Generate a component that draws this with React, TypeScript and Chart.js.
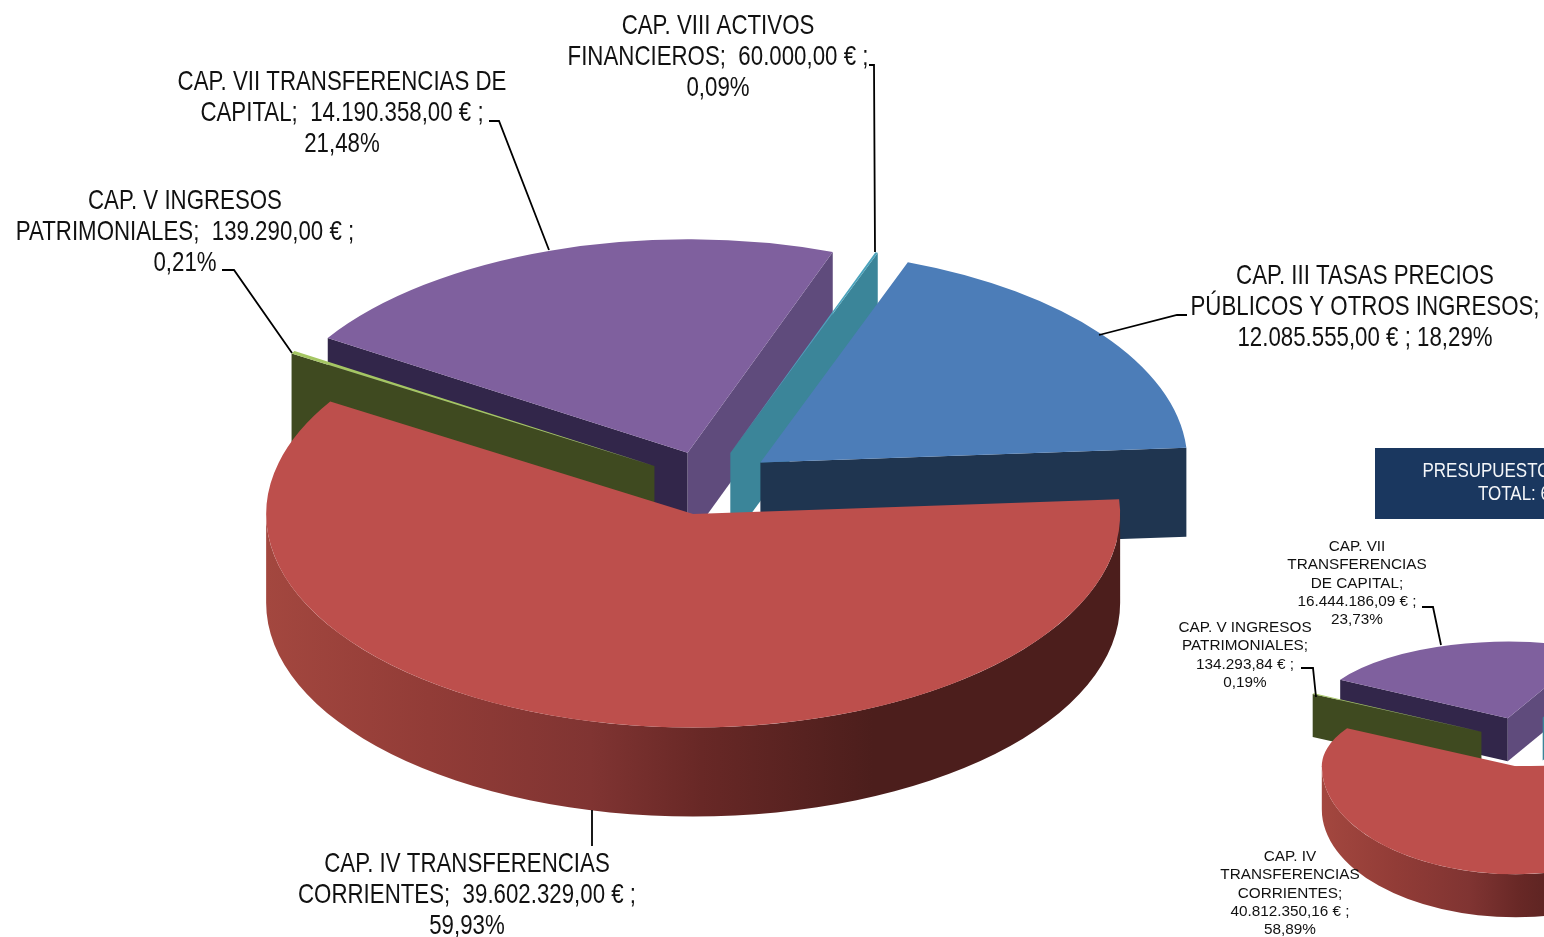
import React, { useEffect, useRef } from "react";
import { Chart, ArcElement, PieController } from "chart.js";

Chart.register(ArcElement, PieController);

// ---- data: first pie ----
const mainCategories = [
  "CAP. III TASAS PRECIOS PÚBLICOS Y OTROS INGRESOS",
  "CAP. IV TRANSFERENCIAS CORRIENTES",
  "CAP. V INGRESOS PATRIMONIALES",
  "CAP. VII TRANSFERENCIAS DE CAPITAL",
  "CAP. VIII ACTIVOS FINANCIEROS",
];
const mainValues = [12085555.0, 39602329.0, 139290.0, 14190358.0, 60000.0];

// ---- data: second pie (the window crops it; III and VIII are estimates) ----
const secondCategories = mainCategories;
const secondValues = [11850000.0, 40812350.16, 134293.84, 16444186.09, 60000.0];

const sliceColors = ["#4C7DB8", "#BD4F4C", "#A5C663", "#7F609E", "#4BA3BC"];
const startFaceColors = [null, null, "#3F4A20", "#32264A", null];
const endFaceColors = ["#1F3550", null, null, "#5F4B7C", "#3B8599"];
const paintOrder = [3, 4, 2, 0, 1];
const rimStops: [number, string][] = [
  [0, "#A3473F"],
  [0.19, "#923C37"],
  [0.38, "#803432"],
  [0.51, "#682826"],
  [0.71, "#4C1E1C"],
  [1, "#4C1E1C"],
];

const REGULAR = '"Liberation Sans", Arial, sans-serif';

// ---- text ----
const mainLabels = [
  { x: 718, y: 25, lines: ["CAP. VIII ACTIVOS", "FINANCIEROS;  60.000,00 € ;", "0,09%"] },
  { x: 342, y: 81, lines: ["CAP. VII TRANSFERENCIAS DE", "CAPITAL;  14.190.358,00 € ;", "21,48%"] },
  { x: 185, y: 200, lines: ["CAP. V INGRESOS", "PATRIMONIALES;  139.290,00 € ;", "0,21%"] },
  { x: 1365, y: 275, lines: ["CAP. III TASAS PRECIOS", "PÚBLICOS Y OTROS INGRESOS;", "12.085.555,00 € ; 18,29%"] },
  { x: 467, y: 863, lines: ["CAP. IV TRANSFERENCIAS", "CORRIENTES;  39.602.329,00 € ;", "59,93%"] },
];
const secondLabels = [
  { x: 1357, y: 547, lines: ["CAP. VII", "TRANSFERENCIAS", "DE CAPITAL;", "16.444.186,09 € ;", "23,73%"] },
  { x: 1245, y: 628, lines: ["CAP. V INGRESOS", "PATRIMONIALES;", "134.293,84 € ;", "0,19%"] },
  { x: 1290, y: 857, lines: ["CAP. IV", "TRANSFERENCIAS", "CORRIENTES;", "40.812.350,16 € ;", "58,89%"] },
];
const titleLines = [
  { x: 1422.5, y: 472, text: "PRESUPUESTO" },
  { x: 1478, y: 494.5, text: "TOTAL: 6" },
];

// ---- leader lines ----
const mainLeaders = [
  [[869, 65], [874, 65], [875, 252]],
  [[489, 121], [499, 121], [549, 250]],
  [[222, 270], [234, 270], [292, 353]],
  [[1099, 335], [1177, 315], [1187, 315]],
  [[592, 810], [592, 846]],
];
const secondLeaders = [
  [[1422, 607], [1433, 607], [1441, 645]],
  [[1301, 668], [1313, 668], [1316, 697]],
];

type PieCfg = {
  originX: number; originY: number; // canvas position on the page
  cx: number; cy: number; radius: number; kBack: number; kFront: number;
  explode: number; depth: number; nudges: number[][];
  font: string; textScale: number; textShift: number; lineHeight: number;
  labels: any[]; leaders: number[][][]; leaderWidth: number; box?: boolean; rotation: number;
};

const mainCfg: PieCfg = {
  originX: 0, originY: 0,
  cx: 709, cy: 483, radius: 427, kBack: 0.5, kFront: 0.5,
  explode: 68, depth: 89, rotation: 20.2,
  nudges: [[-3, 0], [0.5, -2], [3, 1], [0.5, 2], [-2, 2]],
  font: `27.5px ${REGULAR}`, textScale: 0.81, textShift: 1.5, lineHeight: 31,
  labels: mainLabels, leaders: mainLeaders, leaderWidth: 1.8,
};
const secondCfg: PieCfg = {
  originX: 1100, originY: 440,
  cx: 1528, cy: 740, radius: 194, kBack: 0.395, kFront: 0.557,
  explode: 52, depth: 43, rotation: 26,
  nudges: [[0, 0], [0, -2], [-1.5, 2], [-5, -2], [-8, -4]],
  font: `15.3px ${REGULAR}`, textScale: 1, textShift: 0, lineHeight: 18.2,
  labels: secondLabels, leaders: secondLeaders, leaderWidth: 1.8, box: true,
};

function makePie3D(cfg: PieCfg) {
  return {
    id: "pie3d",
    beforeDatasetsDraw(chart: any) {
      const ctx: CanvasRenderingContext2D = chart.ctx;
      const arcs = chart.getDatasetMeta(0).data;
      ctx.save();
      ctx.translate(-cfg.originX, -cfg.originY);

      for (const i of paintOrder) {
        const arc = arcs[i];
        const mid = (arc.startAngle + arc.endAngle) / 2;
        const kMid = Math.sin(mid) < 0 ? cfg.kBack : cfg.kFront;
        const ax = cfg.cx + Math.cos(mid) * cfg.explode + cfg.nudges[i][0];
        const ay = cfg.cy + Math.sin(mid) * cfg.explode * kMid + cfg.nudges[i][1];
        const r = arc.outerRadius;
        const rimPoint = (a: number) => {
          const k = Math.sin(a) < 0 ? cfg.kBack : cfg.kFront;
          return [ax + Math.cos(a) * r, ay + Math.sin(a) * r * k];
        };
        const face = (a: number, color: string | null) => {
          if (!color) return;
          const p = rimPoint(a);
          ctx.fillStyle = color;
          ctx.beginPath();
          ctx.moveTo(ax, ay);
          ctx.lineTo(p[0], p[1]);
          ctx.lineTo(p[0], p[1] + cfg.depth);
          ctx.lineTo(ax, ay + cfg.depth);
          ctx.closePath();
          ctx.fill();
        };
        face(arc.startAngle, startFaceColors[i]);
        face(arc.endAngle, endFaceColors[i]);

        // outer wall of the slice facing the viewer
        if (arc.endAngle - arc.startAngle > Math.PI) {
          const g = ctx.createLinearGradient(ax - r, 0, ax + r, 0);
          rimStops.forEach(([s, c]) => g.addColorStop(s, c));
          ctx.fillStyle = g;
          ctx.beginPath();
          ctx.ellipse(ax, ay, r, r * cfg.kFront, 0, 0, Math.PI);
          ctx.ellipse(ax, ay + cfg.depth, r, r * cfg.kFront, 0, Math.PI, 0, true);
          ctx.closePath();
          ctx.fill();
        }

        // top of the slice: the library's own arc, flattened
        const drawTop = (k: number) => {
          ctx.translate(ax, ay);
          ctx.scale(1, k);
          ctx.translate(-arc.x, -arc.y);
          arc.draw(ctx);
        };
        if (cfg.kBack === cfg.kFront) {
          ctx.save();
          drawTop(cfg.kFront);
          ctx.restore();
        } else {
          const split = Math.round(ay);
          ctx.save();
          ctx.beginPath();
          ctx.rect(Math.floor(ax - r - 5), split - Math.ceil(r), Math.ceil(2 * r + 10), Math.ceil(r) + 1);
          ctx.clip();
          drawTop(cfg.kBack);
          ctx.restore();
          ctx.save();
          ctx.beginPath();
          ctx.rect(Math.floor(ax - r - 5), split, Math.ceil(2 * r + 10), Math.ceil(r));
          ctx.clip();
          drawTop(cfg.kFront);
          ctx.restore();
        }
      }

      // leader lines
      ctx.strokeStyle = "#000";
      ctx.lineWidth = cfg.leaderWidth;
      for (const pts of cfg.leaders) {
        ctx.beginPath();
        pts.forEach((p, j) => (j ? ctx.lineTo(p[0], p[1]) : ctx.moveTo(p[0], p[1])));
        ctx.stroke();
      }

      const put = (s: string, x: number, y: number, sx: number) => {
        ctx.save();
        ctx.translate(x, y);
        ctx.scale(sx, 1);
        ctx.fillText(s, 0, 0);
        ctx.restore();
      };

      // title box
      if (cfg.box) {
        ctx.fillStyle = "#1A375F";
        ctx.fillRect(1375, 448, 400, 71);
        ctx.fillStyle = "#F4F6F9";
        ctx.font = `19.5px ${REGULAR}`;
        ctx.textAlign = "left";
        ctx.textBaseline = "middle";
        for (const t of titleLines) put(t.text, t.x, t.y, 0.87);
      }

      // data labels
      ctx.fillStyle = "#111";
      ctx.font = cfg.font;
      ctx.textAlign = "center";
      ctx.textBaseline = "middle";
      for (const l of cfg.labels) {
        l.lines.forEach((s: string, j: number) =>
          put(s, l.x, l.y + cfg.textShift + j * cfg.lineHeight, cfg.textScale)
        );
      }
      ctx.restore();
      return false;
    },
  };
}

function Pie3D({ cfg, values, labels, width, height }: { cfg: PieCfg; values: number[]; labels: string[]; width: number; height: number }) {
  const ref = useRef<HTMLCanvasElement>(null);
  useEffect(() => {
    const chart = new Chart(ref.current!, {
      type: "pie",
      data: {
        labels,
        datasets: [{ data: values, backgroundColor: sliceColors, borderWidth: 0, radius: cfg.radius } as any],
      },
      options: {
        responsive: false,
        animation: false,
        rotation: cfg.rotation,
        plugins: { legend: { display: false }, tooltip: { enabled: false } },
      } as any,
      plugins: [makePie3D(cfg)],
    });
    return () => chart.destroy();
  }, []);
  return (
    <canvas
      ref={ref}
      width={width}
      height={height}
      style={{ position: "absolute", left: cfg.originX, top: cfg.originY, width, height, display: "block" }}
    />
  );
}

export default function App() {
  return (
    <div style={{ position: "fixed", left: 0, top: 0, width: 1544, height: 937, overflow: "hidden", background: "#fff" }}>
      <Pie3D cfg={mainCfg} values={mainValues} labels={mainCategories} width={1544} height={937} />
      <Pie3D cfg={secondCfg} values={secondValues} labels={secondCategories} width={900} height={497} />
    </div>
  );
}
